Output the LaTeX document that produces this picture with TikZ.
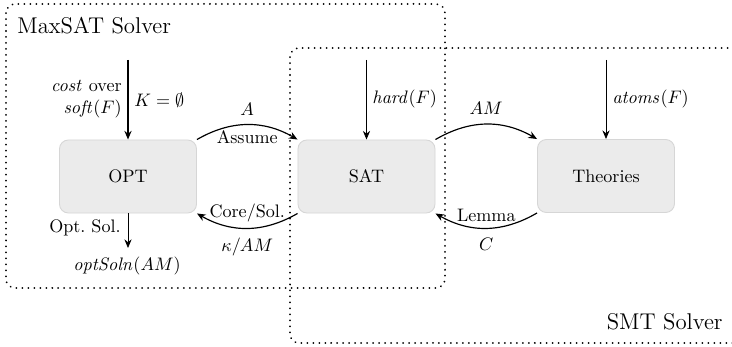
\documentclass[tikz,border=0pt]{standalone}
\usetikzlibrary{arrows.meta}
\definecolor{boxfill}{HTML}{EBEBEB}
\definecolor{boxline}{HTML}{D6D6D6}
\begin{document}
\begin{tikzpicture}[x=0.553pt,y=0.553pt,
  box/.style={draw=boxline, fill=boxfill, line width=0.5pt, rounded corners=5pt,
    minimum width=75.8pt, minimum height=40.4pt, inner sep=0pt},
  region/.style={line width=1.1pt, dash pattern=on 0.01pt off 3.3pt, line cap=round, rounded corners=5pt},
  arr/.style={-{Stealth[length=4.8pt,width=4pt,inset=1.6pt]}, line width=0.65pt},
  thinarr/.style={-{Stealth[length=4.8pt,width=4pt,inset=1.6pt]}, line width=0.45pt},
  lbl/.style={inner sep=2pt}]
\useasboundingbox (0,0) rectangle (732,347);
\clip (0,0) rectangle (732,347);
% regions
\draw[region] (6,343) rectangle (445,59);
\draw[region] (290,299) rectangle (760,4);
\node[anchor=west, inner sep=0pt] (maxlbl) at (17,321) {\fontsize{12.6pt}{15pt}\selectfont MaxSAT Solver};
\node[anchor=east, inner sep=0pt] (smtlbl) at (723,25) {\fontsize{12.6pt}{15pt}\selectfont SMT Solver};
% nodes
\node[box] (OPT) at (128,170.5) {OPT};
\node[box] (SAT) at (366.5,170.5) {SAT};
\node[box] (TH) at (606,171) {Theories};
% inputs
\coordinate (optin) at (128,287);
\coordinate (optout) at (128,99);
\coordinate (satin) at (366.5,287);
\coordinate (thin) at (606,287);
\draw[arr] (optin) -- (OPT.north);
\draw[thinarr] (OPT.south) -- (optout);
\draw[thinarr] (satin) -- (SAT.north);
\draw[thinarr] (thin) -- (TH.north);
\node[anchor=east, align=right, inner sep=0pt] (costlbl) at (122,248) {$\mathit{cost}$ over\\ $\mathit{soft}(F)$};
\node[anchor=west, inner sep=0pt] (klbl) at (134,247) {$K=\emptyset$};
\node[anchor=east, inner sep=0pt] (optsol) at (121,119) {Opt.\ Sol.};
\node[inner sep=0pt] (optsoln) at (127,81) {$\mathit{optSoln}(AM)$};
\node[anchor=west, inner sep=0pt] (hardlbl) at (372,248) {$\mathit{hard}(F)$};
\node[anchor=west, inner sep=0pt] (atomslbl) at (612,248) {$\mathit{atoms}(F)$};
% curved connectors
\draw[arr] (OPT.north east) to[bend left=30]
  node[above, lbl, yshift=3pt] {$A$} node[below, lbl, yshift=-1pt] {Assume} (SAT.north west);
\draw[arr] (SAT.south west) to[bend left=30]
  node[above, lbl, yshift=1pt] {Core/Sol.} node[below, lbl, yshift=-3pt] {$\kappa/AM$} (OPT.south east);
\draw[arr] (SAT.north east) to[bend left=30]
  node[above, lbl, yshift=3pt] {$AM$} (TH.north west);
\draw[arr] (TH.south west) to[bend left=30]
  node[above, lbl, yshift=1pt] {Lemma} node[below, lbl, yshift=-3pt] {$C$} (SAT.south east);
\end{tikzpicture}
\end{document}
